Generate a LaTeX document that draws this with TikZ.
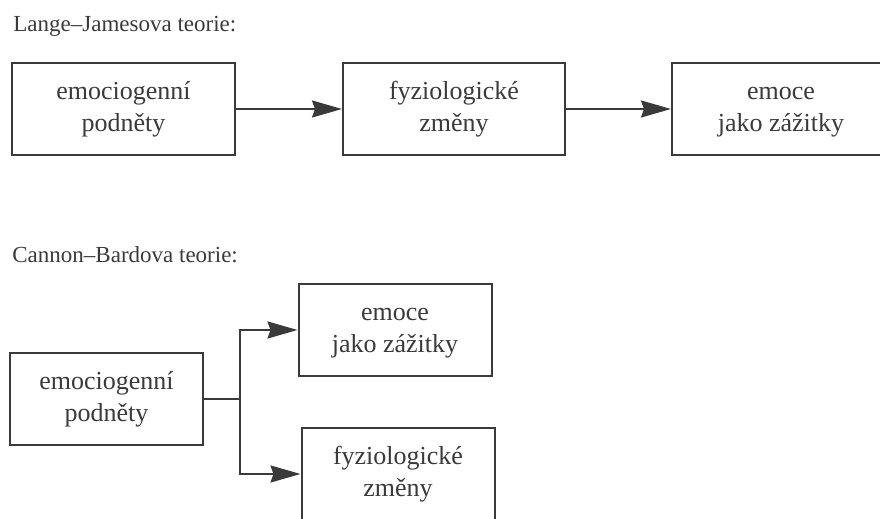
\documentclass[tikz,border=0pt]{standalone}
\usepackage{fontspec}
\setmainfont{Liberation Serif}
\usepackage{xcolor}
\usetikzlibrary{arrows.meta,positioning}
\definecolor{ink}{HTML}{3A3A3A}
% two struted lines, so every box centres its text the same way
\newcommand{\boxlines}[2]{\strut#1\\\strut#2}

\begin{document}
\begin{tikzpicture}[
    % GLOBAL CFG
    x=0.5pt, y=-0.5pt,
    >={Stealth[length=15pt,width=8.5pt,inset=1.5pt]},
    % Styles
    box/.style={% For the boxes
        rectangle,
        draw=ink,
        line width=1pt,
        text=ink,
        align=center,
        minimum height=46pt,
        inner sep=2pt,
        font=\fontsize{13}{16}\selectfont,
        },
    heading/.style={% For the two titles
        anchor=base west,
        text=ink,
        inner sep=0pt,
        font=\fontsize{11.5}{14}\selectfont,
        },
    link/.style={% Connectors
        draw=ink,
        line width=1pt,
        },
    ]

    \useasboundingbox (0,0) rectangle (880,519);

    % Lange-James: three boxes in a row
    \node [heading] (titleA) at (13,32) {Lange--Jamesova teorie:};
    \node [box, minimum width=111.5pt] (stimA) at (123.5,109) {\boxlines{emociogenní}{podněty}};
    \node [box, minimum width=111pt] (physA) at (454,109) {\boxlines{fyziologické}{změny}};
    \node [box, minimum width=109pt] (emoA) at (781,109) {\boxlines{emoce}{jako zážitky}};

    \draw [->, link] (stimA) -- (physA);
    \draw [->, link] (physA) -- (emoA);

    % Cannon-Bard: one box forking into two
    \node [heading] (titleB) at (12,263) {Cannon--Bardova teorie:};
    \node [box, minimum width=96.5pt] (stimB) at (106.5,399) {\boxlines{emociogenní}{podněty}};
    \node [box, minimum width=96.5pt] (emoB) at (395,330) {\boxlines{emoce}{jako zážitky}};
    \node [box, minimum width=96.5pt] (physB) at (398,474) {\boxlines{fyziologické}{změny}};

    \coordinate (fork) at (240,399);
    \draw [link] (stimB) -- (fork);
    \draw [->, link] (fork) |- (emoB);
    \draw [->, link] (fork) |- (physB);

\end{tikzpicture}
\end{document}
